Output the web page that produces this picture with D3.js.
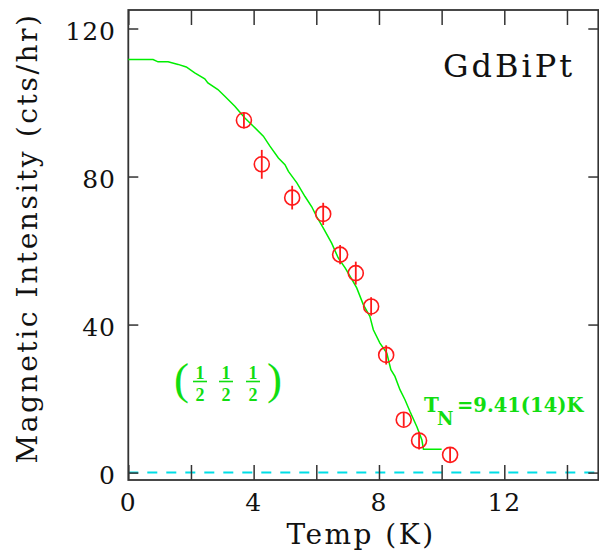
<!DOCTYPE html>
<html>
<head>
<meta charset="utf-8">
<script src="https://cdn.jsdelivr.net/npm/d3@7"></script>
<style>
  html, body { margin: 0; padding: 0; background: #fff; }
  svg { display: block; }
</style>
</head>
<body>
<svg id="chart" width="599" height="552"></svg>
<script>
// measured points (Temp in K, intensity in cts/hr, error bar half-height)
const temps = [3.69, 4.26, 5.23, 6.22, 6.76, 7.26, 7.75, 8.23, 8.79, 9.28, 10.27]
const counts = [95.2, 83.3, 74.3, 69.9, 58.9, 53.9, 44.9, 31.8, 14.3, 8.65, 4.8]
const errs = [2.2, 3.9, 3.2, 3.0, 2.6, 3.1, 2.5, 2.6, 1.9, 2.4, 1.9]

// fitted order-parameter curve
const fitT = [0, 0.79, 0.95, 1.27, 1.59, 1.85, 2.12, 2.44, 2.54, 2.86, 3.08, 3.40, 3.72, 3.99,
  4.31, 4.52, 4.79, 5.00, 5.11, 5.38, 5.64, 5.85, 6.01, 6.22, 6.49, 6.70, 6.92, 7.08, 7.29,
  7.50, 7.71, 7.82, 8.03, 8.25, 8.38, 8.51, 8.67, 8.83, 8.99, 9.21, 9.37, 9.42, 10.0]
const fitI = [111.6, 111.6, 111.0, 111.0, 110.3, 109.6, 108.0, 106.4, 105.3, 103.5, 101.7, 99.0,
  95.8, 93.6, 90.9, 88.2, 85.0, 83.2, 81.4, 78.3, 74.6, 71.9, 69.2, 66.1, 62.0, 58.0, 55.3,
  53.0, 49.9, 45.4, 42.2, 38.6, 35.0, 32.3, 27.8, 26.0, 22.4, 19.7, 16.5, 12.4, 8.8, 6.3, 6.3]

const xTicks = [0, 2, 4, 6, 8, 10, 12, 14]
const xLabels = [0, 4, 8, 12]
const yTicks = [0, 40, 80, 120]

const GREEN = '#11dd11'
const RED = '#ff1a1a'
const AXIS = '#333'

const svg = d3.select('#chart')

const x = d3.scaleLinear().domain([0, 15]).range([128.3, 598.3])
const y = d3.scaleLinear().domain([-2, 125]).range([480, 10])

const [x0, x1] = x.range()
const [yb, yt] = y.range()

// ---------------------------------------------------------------
// zero line
// ---------------------------------------------------------------
svg.append('line')
    .attr('x1', x0).attr('x2', x1)
    .attr('y1', y(0)).attr('y2', y(0))
    .attr('stroke', '#00dde6')
    .attr('stroke-width', 2)
    .attr('stroke-dasharray', '10 9')

// ---------------------------------------------------------------
// axes (ticks point inward on all four sides)
// ---------------------------------------------------------------
const noLabel = () => ''
const tickStyle = g => {
    g.select('.domain').remove()
    g.selectAll('.tick line').attr('stroke', AXIS).attr('stroke-width', 1.5)
}

svg.append('g').attr('transform', `translate(0,${yb})`)
    .call(d3.axisBottom(x).tickValues(xTicks).tickSize(-15).tickFormat(noLabel))
    .call(tickStyle)
svg.append('g').attr('transform', `translate(0,${yt})`)
    .call(d3.axisTop(x).tickValues(xTicks).tickSize(-15).tickFormat(noLabel))
    .call(tickStyle)
svg.append('g').attr('transform', `translate(${x0},0)`)
    .call(d3.axisLeft(y).tickValues(yTicks).tickSize(-10).tickFormat(noLabel))
    .call(tickStyle)
svg.append('g').attr('transform', `translate(${x1},0)`)
    .call(d3.axisRight(y).tickValues(yTicks).tickSize(-10).tickFormat(noLabel))
    .call(tickStyle)

svg.append('rect')
    .attr('x', x0).attr('y', yt)
    .attr('width', x1 - x0).attr('height', yb - yt)
    .attr('fill', 'none')
    .attr('stroke', AXIS)
    .attr('stroke-width', 1.8)

// tick labels
const serif = '"DejaVu Serif", serif'
svg.append('g').selectAll('text')
    .data(xLabels)
    .join('text')
    .attr('x', d => x(d))
    .attr('y', 511)
    .attr('text-anchor', 'middle')
    .style('font-family', serif)
    .style('font-size', '25px')
    .style('letter-spacing', '1px')
    .style('fill', '#111')
    .text(d => d)

svg.append('g').selectAll('text')
    .data(yTicks)
    .join('text')
    .attr('x', 116)
    .attr('y', d => y(d) + 11)
    .attr('text-anchor', 'end')
    .style('font-family', serif)
    .style('font-size', '25px')
    .style('letter-spacing', '1px')
    .style('fill', '#111')
    .text(d => d)

// axis titles
svg.append('text')
    .attr('x', 361)
    .attr('y', 544)
    .attr('text-anchor', 'middle')
    .style('font-family', serif)
    .style('font-size', '28px')
    .style('letter-spacing', '2.5px')
    .style('fill', '#111')
    .text('Temp (K)')

svg.append('text')
    .attr('transform', 'translate(37,238) rotate(-90)')
    .attr('text-anchor', 'middle')
    .style('font-family', serif)
    .style('font-size', '28px')
    .style('letter-spacing', '2.6px')
    .style('fill', '#111')
    .text('Magnetic Intensity (cts/hr)')

// ---------------------------------------------------------------
// fit curve
// ---------------------------------------------------------------
const fitPts = fitT.map((t, i) => [t, fitI[i]])
svg.append('path')
    .datum(fitPts)
    .attr('d', d3.line().x(d => x(d[0])).y(d => y(d[1])))
    .attr('fill', 'none')
    .attr('stroke', '#00ee00')
    .attr('stroke-width', 1.5)

// ---------------------------------------------------------------
// data points with error bars
// ---------------------------------------------------------------
const pts = temps.map((t, i) => ({ t, c: counts[i], e: errs[i] }))
const gPts = svg.append('g')
gPts.selectAll('line')
    .data(pts)
    .join('line')
    .attr('x1', d => x(d.t)).attr('x2', d => x(d.t))
    .attr('y1', d => y(d.c + d.e)).attr('y2', d => y(d.c - d.e))
    .attr('stroke', RED)
    .attr('stroke-width', 1.8)
gPts.selectAll('circle')
    .data(pts)
    .join('circle')
    .attr('cx', d => x(d.t))
    .attr('cy', d => y(d.c))
    .attr('r', 7.5)
    .attr('fill', 'none')
    .attr('stroke', RED)
    .attr('stroke-width', 1.6)

// ---------------------------------------------------------------
// annotations
// ---------------------------------------------------------------
svg.append('text')
    .attr('x', 443)
    .attr('y', 77)
    .style('font-family', serif)
    .style('font-size', '32px')
    .style('letter-spacing', '3px')
    .style('fill', '#111')
    .text('GdBiPt')

const gTn = svg.append('g')
    .style('font-family', serif)
    .style('font-weight', 'bold')
    .style('fill', GREEN)
gTn.append('text').attr('x', 424).attr('y', 412).style('font-size', '20px').text('T')
gTn.append('text').attr('x', 437).attr('y', 425).style('font-size', '18px').text('N')
gTn.append('text').attr('x', 457).attr('y', 412).style('font-size', '19.5px').text('=9.41(14)K')

// (1/2 1/2 1/2) wave vector label
const fracX = [200, 226, 253]
const gQ = svg.append('g').style('fill', GREEN)
    .style('font-family', '"Liberation Serif", serif')
gQ.append('text').attr('x', 174).attr('y', 394).style('font-size', '45px').text('(')
gQ.append('text').attr('x', 267).attr('y', 394).style('font-size', '45px').text(')')
fracX.forEach(cx => {
    gQ.append('text').attr('x', cx).attr('y', 378.5).attr('text-anchor', 'middle')
        .style('font-size', '18px').style('font-weight', 'bold').text('1')
    gQ.append('line').attr('x1', cx - 7).attr('x2', cx + 7)
        .attr('y1', 381.5).attr('y2', 381.5)
        .attr('stroke', GREEN).attr('stroke-width', 1.6)
    gQ.append('text').attr('x', cx).attr('y', 400.5).attr('text-anchor', 'middle')
        .style('font-size', '18px').style('font-weight', 'bold').text('2')
})
</script>
</body>
</html>
